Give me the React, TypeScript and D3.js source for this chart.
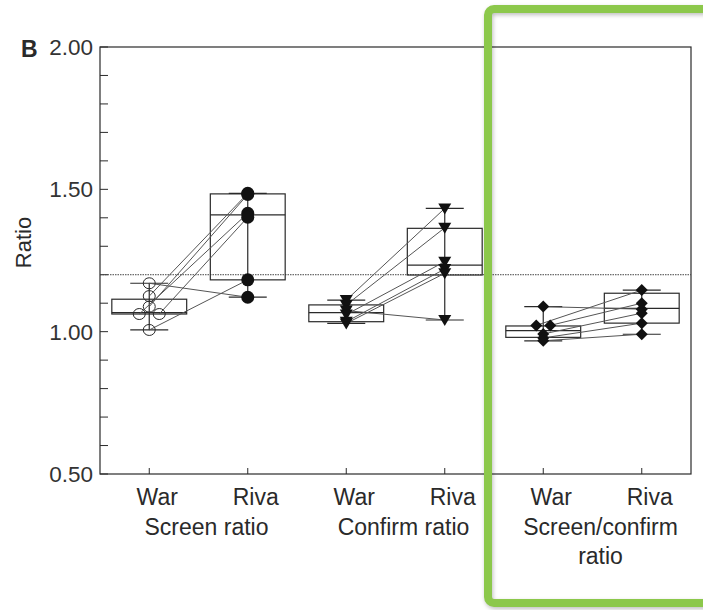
import React from "react";
import * as d3 from "d3";

// Paired ratios per subject, warfarin vs rivaroxaban
const armLabels = ["War", "Riva"];
const groupLabels = [["Screen ratio"], ["Confirm ratio"], ["Screen/confirm", "ratio"]];

const screenWar = [1.17, 1.006, 1.125, 1.088, 1.062, 1.062];
const screenRiva = [1.121, 1.182, 1.486, 1.482, 1.416, 1.402];
const confirmWar = [1.111, 1.094, 1.074, 1.06, 1.035, 1.029];
const confirmRiva = [1.433, 1.365, 1.041, 1.246, 1.22, 1.205];
const scWar = [1.088, 1.022, 1.022, 0.992, 0.978, 0.968];
const scRiva = [1.079, 1.146, 1.1, 1.065, 1.03, 0.991];

// Box summaries (lower hinge, median, upper hinge) for the six columns
const boxQ1 = [1.062, 1.182, 1.035, 1.199, 0.98, 1.03];
const boxMedian = [1.067, 1.41, 1.067, 1.234, 1.004, 1.082];
const boxQ3 = [1.114, 1.484, 1.094, 1.363, 1.02, 1.135];

const yMajorTicks = [0.5, 1.0, 1.5, 2.0];
const yMinorTicks = d3.range(5, 21).map((d) => d / 10);
const referenceLevel = 1.2;

const markerKinds = ["openCircle", "filledCircle", "triangle", "triangle", "diamond", "diamond"];

const columns = [screenWar, screenRiva, confirmWar, confirmRiva, scWar, scRiva];

const W = 703;
const H = 610;
const plot = { left: 100, right: 691, top: 47, bottom: 474 };
const ink = "#2a2a2a";
const font = "'Liberation Sans', Arial, Helvetica, sans-serif";

function Marker({ kind, x, y }: { kind: string; x: number; y: number }) {
  if (kind === "openCircle")
    return <ellipse cx={x} cy={y} rx={6} ry={5.5} fill="none" stroke={ink} strokeWidth={1} />;
  if (kind === "filledCircle") return <circle cx={x} cy={y} r={6.5} fill="#111" />;
  if (kind === "triangle")
    return (
      <path
        d={`M${x - 6.5},${y - 5} L${x + 6.5},${y - 5} L${x},${y + 6} Z`}
        fill="#111"
      />
    );
  return (
    <path d={`M${x},${y - 6} L${x + 6},${y} L${x},${y + 6} L${x - 6},${y} Z`} fill="#111" />
  );
}

export default function App() {
  const keys = d3.range(6).map(String);
  const xBand = d3.scaleBand<string>().domain(keys).range([plot.left, plot.right]).padding(0);
  const bw = xBand.bandwidth();
  const cx = (i: number) => (xBand(String(i)) as number) + bw / 2;
  const y = d3.scaleLinear().domain([0.5, 2.0]).range([plot.bottom, plot.top]);

  const boxHalf = bw * 0.38;
  const capHalf = 19;
  const labelShift = 8;

  // horizontal dodge for exactly tied values within a column
  const dodgeOf = (vals: number[], kind: string) => {
    const step = kind === "openCircle" ? 10 : 7;
    const seen = new Map<number, number[]>();
    vals.forEach((v, i) => {
      const arr = seen.get(v) || [];
      arr.push(i);
      seen.set(v, arr);
    });
    const off = vals.map(() => 0);
    seen.forEach((idx) => {
      if (idx.length > 1) {
        idx.forEach((ii, k) => {
          off[ii] = (k - (idx.length - 1) / 2) * 2 * step;
        });
      }
    });
    return off;
  };
  const offsets = columns.map((c, i) => dodgeOf(c, markerKinds[i]));

  const fmt = d3.format(".2f");

  return (
    <svg width={W} height={H} style={{ display: "block", position: "absolute", left: 0, top: 0 }}>
      <defs>
        <filter id="soft" x="-10%" y="-10%" width="120%" height="120%">
          <feGaussianBlur stdDeviation="2" />
        </filter>
      </defs>
      <rect width={W} height={H} fill="#fff" />

      {/* plot frame */}
      <rect
        x={plot.left}
        y={plot.top}
        width={plot.right - plot.left}
        height={plot.bottom - plot.top}
        fill="none"
        stroke={ink}
        strokeWidth={1.2}
      />

      {/* y ticks (inward) */}
      {yMinorTicks.map((t) => (
        <line
          key={"yt" + t}
          x1={plot.left}
          x2={plot.left + 8}
          y1={y(t)}
          y2={y(t)}
          stroke={ink}
          strokeWidth={1}
        />
      ))}
      {yMajorTicks.map((t) => (
        <text
          key={"yl" + t}
          x={93}
          y={y(t)}
          dy="0.36em"
          textAnchor="end"
          fontFamily={font}
          fontSize={22.5}
          fill="#333"
        >
          {fmt(t)}
        </text>
      ))}
      {/* x ticks (inward) */}
      {keys.map((k, i) => (
        <line
          key={"xt" + k}
          x1={cx(i)}
          x2={cx(i)}
          y1={plot.bottom}
          y2={plot.bottom - 6}
          stroke={ink}
          strokeWidth={1}
        />
      ))}

      {/* reference level */}
      <line
        x1={plot.left}
        x2={plot.right}
        y1={y(referenceLevel)}
        y2={y(referenceLevel)}
        stroke="#444"
        strokeWidth={1}
        strokeDasharray="1.5,1"
      />

      {/* boxes and whiskers */}
      {columns.map((vals, i) => {
        const lo = d3.min(vals) as number;
        const hi = d3.max(vals) as number;
        const c = cx(i);
        return (
          <g key={"box" + i} stroke={ink} strokeWidth={1.2} fill="none">
            <line x1={c} x2={c} y1={y(hi)} y2={y(lo)} />
            <line x1={c - capHalf} x2={c + capHalf} y1={y(hi)} y2={y(hi)} />
            <line x1={c - capHalf} x2={c + capHalf} y1={y(lo)} y2={y(lo)} />
            <rect
              x={c - boxHalf}
              y={y(boxQ3[i])}
              width={boxHalf * 2}
              height={y(boxQ1[i]) - y(boxQ3[i])}
            />
            <line x1={c - boxHalf} x2={c + boxHalf} y1={y(boxMedian[i])} y2={y(boxMedian[i])} />
          </g>
        );
      })}

      {/* paired subject lines */}
      {[0, 1, 2].map((g) => {
        const a = columns[g * 2];
        const b = columns[g * 2 + 1];
        return a.map((v, j) => (
          <line
            key={`pl${g}-${j}`}
            x1={cx(g * 2) + offsets[g * 2][j]}
            y1={y(v)}
            x2={cx(g * 2 + 1) + offsets[g * 2 + 1][j]}
            y2={y(b[j])}
            stroke="#555"
            strokeWidth={1}
          />
        ));
      })}

      {/* markers */}
      {columns.map((vals, i) =>
        vals.map((v, j) => (
          <Marker key={`m${i}-${j}`} kind={markerKinds[i]} x={cx(i) + offsets[i][j]} y={y(v)} />
        ))
      )}

      {/* category labels */}
      {keys.map((k, i) => (
        <text
          key={"arm" + k}
          x={cx(i) + labelShift}
          y={505}
          textAnchor="middle"
          fontFamily={font}
          fontSize={23}
          fill={ink}
        >
          {armLabels[i % 2]}
        </text>
      ))}
      {groupLabels.map((lines, g) => (
        <text
          key={"grp" + g}
          x={(cx(g * 2) + cx(g * 2 + 1)) / 2 + labelShift}
          y={535}
          textAnchor="middle"
          fontFamily={font}
          fontSize={23}
          fill={ink}
        >
          {lines.map((ln, li) => (
            <tspan key={li} x={(cx(g * 2) + cx(g * 2 + 1)) / 2 + labelShift} dy={li === 0 ? 0 : 29}>
              {ln}
            </tspan>
          ))}
        </text>
      ))}

      {/* axis title and panel letter */}
      <text
        transform={`translate(31,${(plot.top + plot.bottom) / 2 - 18}) rotate(-90)`}
        textAnchor="middle"
        fontFamily={font}
        fontSize={22}
        fill={ink}
      >
        Ratio
      </text>
      <text x={21} y={57} fontFamily={font} fontSize={23} fontWeight="bold" fill={ink}>
        B
      </text>

      {/* highlight frame */}
      <rect
        x={489}
        y={11}
        width={240}
        height={594}
        rx={6}
        fill="none"
        stroke="#000"
        strokeOpacity={0.25}
        strokeWidth={8}
        filter="url(#soft)"
      />
      <rect x={488} y={9} width={240} height={594} rx={6} fill="none" stroke="#8cc84b" strokeWidth={8} />
    </svg>
  );
}
